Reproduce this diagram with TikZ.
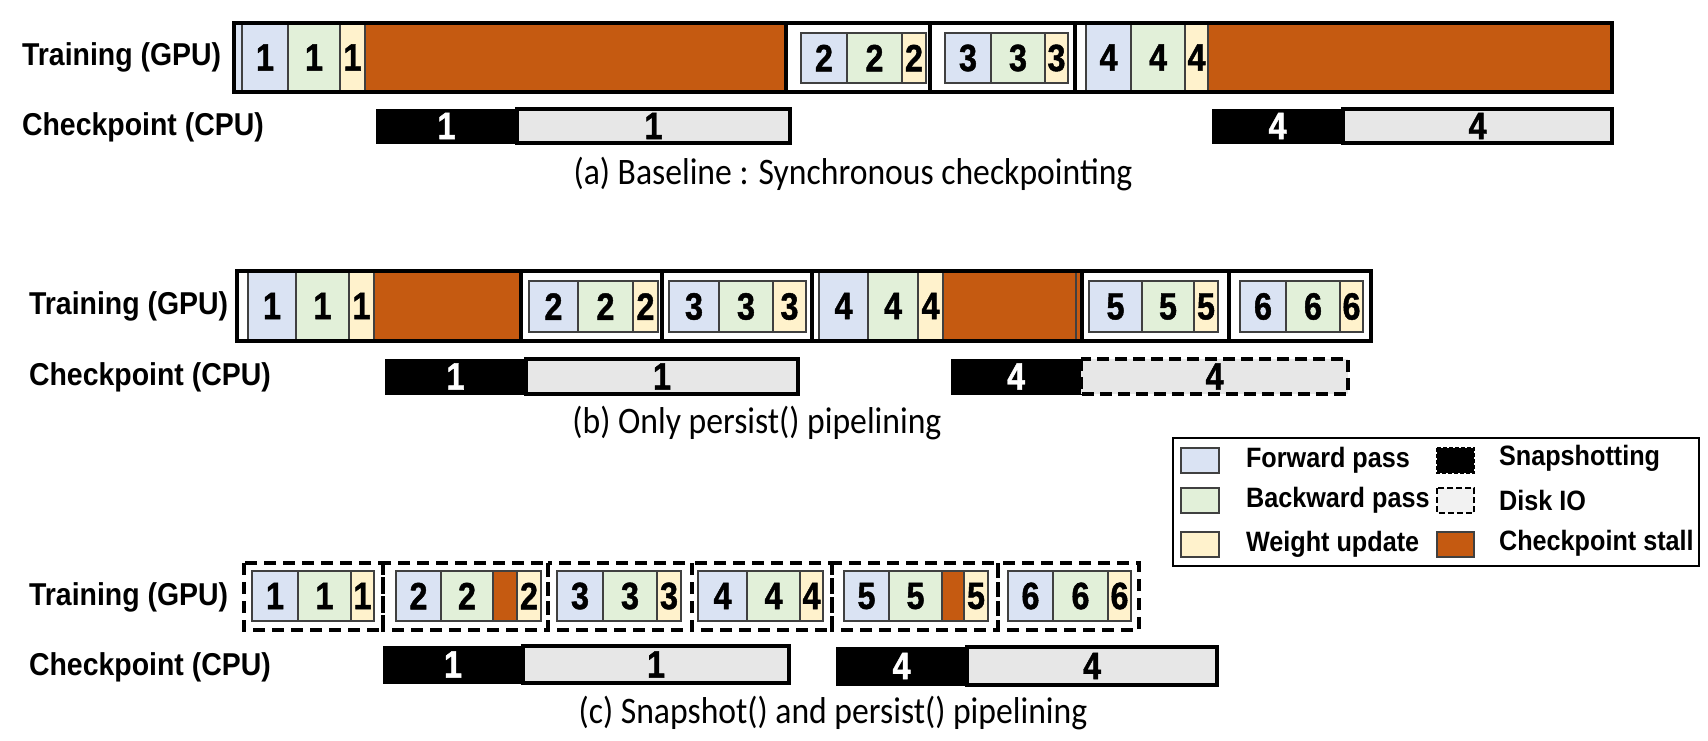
\documentclass[tikz,border=0pt]{standalone}
\usepackage{fontspec}
\setmainfont{Liberation Sans}
\newfontfamily\lblfont[FakeStretch=0.9]{Liberation Sans}
\newfontfamily\numfont[FakeStretch=0.85,BoldFeatures={FakeBold=1.2}]{Liberation Sans}
\newfontfamily\capfont[FakeStretch=0.9]{Carlito}

\definecolor{fwdc}{RGB}{218,227,243}
\definecolor{bwdc}{RGB}{226,240,217}
\definecolor{updc}{RGB}{255,242,204}
\definecolor{stallc}{RGB}{197,90,17}
\definecolor{diskc}{RGB}{231,231,231}
\definecolor{legdiskc}{RGB}{242,242,242}

\newcount\segno

\begin{document}
\begin{tikzpicture}[x=0.5pt,y=-0.5pt,
  seg/.style={draw=black!75, line width=1pt},
  fwd/.style={seg, fill=fwdc},
  bwd/.style={seg, fill=bwdc},
  upd/.style={seg, fill=updc},
  stall/.style={seg, fill=stallc},
  snap/.style={fill=black, draw=black, text=white},
  disk/.style={fill=diskc, draw=black, line width=2pt},
  dashdisk/.style={disk, dash pattern=on 6pt off 3pt},
  itbox/.style={draw=black, fill=white, line width=2pt},
  dashbox/.style={draw=black, line width=2.3pt, dash pattern=on 6pt off 3.5pt},
  num/.style={font=\numfont\bfseries\fontsize{19}{19}\selectfont, inner sep=0pt},
  rowlbl/.style={anchor=west, font=\lblfont\bfseries\fontsize{15.8}{16}\selectfont},
  leg/.style={anchor=west, font=\lblfont\bfseries\fontsize{14}{14}\selectfont},
  captxt/.style={font=\capfont\fontsize{18.7}{20}\selectfont}]
\useasboundingbox (0,0) rectangle (1708,740);

\def\seg[#1](#2,#3)(#4,#5)#6;{%
  \global\advance\segno by 1
  \draw[#1] (#2,#3) rectangle (#4,#5)
    ({(#2+#4)/2},{(#3+#5)/2}) node[num] (s\the\segno) {#6};}
\def\iter#1:#2,#3,#4,#5;{%
  \seg[fwd](#2,\yt)(#3,\yb){#1};
  \seg[bwd](#3,\yt)(#4,\yb){#1};
  \seg[upd](#4,\yt)(#5,\yb){#1};}

% (a) baseline
\node[rowlbl] (traina) at (15,57) {Training (GPU)};
\node[rowlbl] (ckpta) at (15,127) {Checkpoint (CPU)};
\def\yt{23}\def\yb{92}
\seg[fwd](234,\yt)(242,\yb){};
\iter 1:242,288,340,365;
\seg[stall](365,\yt)(786,\yb){};
\draw[itbox] (786,23) rectangle (930,92);
\draw[itbox] (930,23) rectangle (1075,92);
\def\yt{33}\def\yb{83}
\iter 2:801,847,902,926;
\iter 3:945,991,1045,1068;
\def\yt{23}\def\yb{92}
\iter 4:1086,1131,1185,1208;
\seg[stall](1208,\yt)(1612,\yb){};
\draw[line width=2pt] (234,23) rectangle (1612,92);

\seg[snap](376,109)(517,143){1};
\seg[disk](517,109)(790,143){1};
\seg[snap](1212,109)(1343,143){4};
\seg[disk](1343,109)(1612,143){4};
\node[captxt] (capa) at (853,174) {(a) Baseline : Synchronous checkpointing};

% (b) persist() only
\node[rowlbl] (trainb) at (22,306) {Training (GPU)};
\node[rowlbl] (ckptb) at (22,377) {Checkpoint (CPU)};
\def\yt{271}\def\yb{341}
\iter 1:248,296,349,374;
\seg[stall](374,\yt)(521,\yb){};
\draw[itbox] (521,271) rectangle (662,341);
\draw[itbox] (662,271) rectangle (812,341);
\iter 4:819,868,918,943;
\seg[stall](943,\yt)(1076,\yb){};
\seg[stall](1076,\yt)(1082,\yb){};
\draw[itbox] (1082,271) rectangle (1229,341);
\draw[itbox] (1229,271) rectangle (1371,341);
\def\yt{281}\def\yb{332}
\iter 2:529,578,633,658;
\iter 3:669,719,773,806;
\iter 5:1089,1142,1194,1218;
\iter 6:1240,1286,1340,1363;
\draw[line width=2pt] (237,271) rectangle (1371,341);

\seg[snap](385,359)(526,394){1};
\seg[disk](526,359)(798,394){1};
\seg[snap](951,359)(1081,394){4};
\seg[dashdisk](1081,359)(1348,394){4};
\node[captxt] (capb) at (757,423) {(b) Only persist() pipelining};

% legend
\draw[line width=1pt] (1173,438) rectangle (1699,566);
\draw[fwd] (1181,448) rectangle (1219,473);
\draw[bwd] (1181,488) rectangle (1219,513);
\draw[upd] (1181,532) rectangle (1219,557);
\draw[fill=black, draw=black, line width=1pt, dash pattern=on 2pt off 1pt] (1437,448) rectangle (1474,473);
\draw[fill=legdiskc, draw=black, line width=1pt, dash pattern=on 3pt off 1.5pt] (1437,488) rectangle (1474,513);
\draw[stall] (1437,532) rectangle (1474,557);
\node[leg] (lfwd) at (1239,460) {Forward pass};
\node[leg] (lbwd) at (1239,500) {Backward pass};
\node[leg] (lupd) at (1239,544) {Weight update};
\node[leg] (lsnap) at (1492,458) {Snapshotting};
\node[leg] (ldisk) at (1492,500) {Disk IO};
\node[leg] (lstall) at (1492,543) {Checkpoint stall};

% (c) snapshot() and persist()
\node[rowlbl] (trainc) at (22,597) {Training (GPU)};
\node[rowlbl] (ckptc) at (22,667) {Checkpoint (CPU)};
\draw[dashbox] (244,563) rectangle (383,630);
\draw[dashbox] (383,563) rectangle (548,630);
\draw[dashbox] (548,563) rectangle (692,630);
\draw[dashbox] (692,563) rectangle (832,630);
\draw[dashbox] (832,563) rectangle (998,630);
\draw[dashbox] (998,563) rectangle (1139,630);
\def\yt{571}\def\yb{621}
\iter 1:252,298,351,374;
\seg[fwd](396,\yt)(441,\yb){2};
\seg[bwd](441,\yt)(493,\yb){2};
\seg[stall](493,\yt)(517,\yb){};
\seg[upd](517,\yt)(541,\yb){2};
\iter 3:557,603,657,681;
\iter 4:698,747,800,823;
\seg[fwd](844,\yt)(889,\yb){5};
\seg[bwd](889,\yt)(942,\yb){5};
\seg[stall](942,\yt)(964,\yb){};
\seg[upd](964,\yt)(988,\yb){5};
\iter 6:1008,1053,1108,1131;

\seg[snap](383,646)(523,683){1};
\seg[disk](523,646)(789,683){1};
\seg[snap](836,647)(967,685){4};
\seg[disk](967,647)(1217,685){4};
\node[captxt] (capc) at (833,713) {(c) Snapshot() and persist() pipelining};
\end{tikzpicture}
\end{document}
